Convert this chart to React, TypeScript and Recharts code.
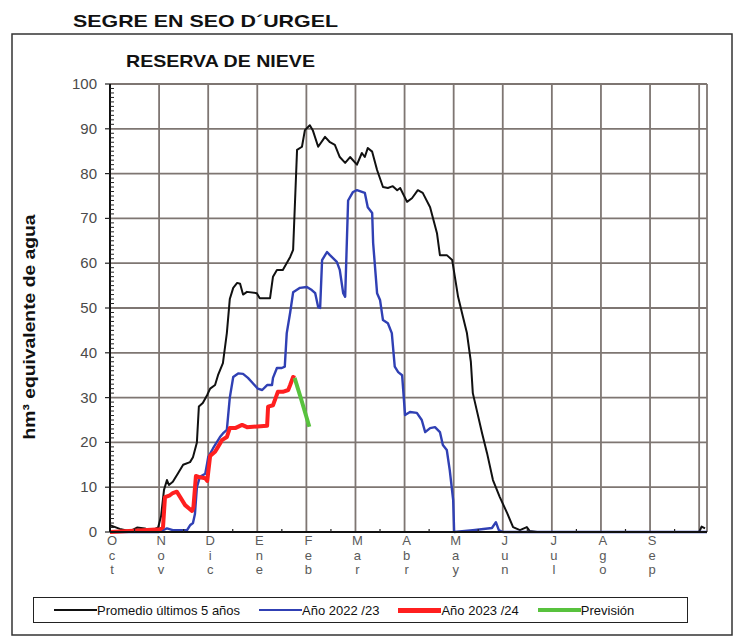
import React from "react";
import { LineChart, Line, XAxis, YAxis, CartesianGrid } from "recharts";

// months of the hydrological year, x axis is in month units (0 = 1 Oct)
const monthLabels = ["Oct", "Nov", "Dic", "Ene", "Feb", "Mar", "Abr", "May", "Jun", "Jul", "Ago", "Sep"];
const X_MAX = 12.16;
const xTicks = Array.from({ length: 25 }, (_, i) => i / 2);
const monthLines = [1, 2, 3, 4, 5, 6, 7, 8, 9, 10, 11, 12, X_MAX];
const yMajor = [10, 20, 30, 40, 50, 60, 70, 80, 90, 100];
const yTicks = Array.from({ length: 101 }, (_, i) => i);

// [mes, hm3]
const promedio: [number, number][] = [
  [0, 1.5], [0.2, 0.7], [0.41, 0.2], [0.55, 1.0], [0.71, 0.8], [0.81, 0.3], [0.92, 0.7], [0.98, 1.0],
  [1.04, 3.5], [1.1, 9.4], [1.16, 11.6], [1.2, 10.5], [1.28, 11.2], [1.38, 13], [1.49, 15], [1.63, 15.6],
  [1.69, 16.7], [1.77, 20], [1.81, 28], [1.89, 28.8], [1.98, 30.6], [2.04, 32], [2.14, 32.8], [2.2, 35],
  [2.3, 37.7], [2.38, 44.4], [2.44, 52], [2.51, 54.5], [2.59, 55.6], [2.65, 55.4], [2.71, 53], [2.79, 53.6],
  [2.99, 53.3], [3.05, 52.2], [3.26, 52.2], [3.32, 57], [3.4, 58.5], [3.52, 58.5], [3.67, 61.4], [3.73, 63],
  [3.81, 85.3], [3.91, 86], [3.97, 89.7], [4.07, 90.8], [4.13, 89.7], [4.24, 86], [4.38, 88.2], [4.48, 87],
  [4.58, 86.4], [4.68, 83.7], [4.79, 82.4], [4.89, 83.7], [5.03, 82], [5.13, 84.6], [5.19, 83.7], [5.25, 85.7],
  [5.34, 84.9], [5.44, 80.8], [5.56, 77], [5.66, 76.8], [5.76, 77.2], [5.85, 76.3], [5.91, 76.8], [6.05, 73.7],
  [6.15, 74.5], [6.27, 76.3], [6.37, 75.7], [6.52, 72.5], [6.66, 66.7], [6.72, 61.8], [6.86, 61.8], [6.97, 60.7],
  [7.09, 52.5], [7.19, 48], [7.27, 44.4], [7.35, 38], [7.39, 31], [7.47, 27.2], [7.58, 22], [7.68, 17.6],
  [7.8, 11.6], [7.94, 7.8], [8.09, 4.2], [8.21, 1.1], [8.35, 0.4], [8.49, 1.1], [8.55, 0.2], [8.7, 0],
  [12.0, 0], [12.05, 1.2], [12.12, 0.8],
];

const anio2223: [number, number][] = [
  [0, 0], [1.0, 0], [1.16, 0.8], [1.28, 0.4], [1.57, 0.4], [1.63, 1.5], [1.69, 2], [1.73, 4], [1.77, 10],
  [1.83, 12.3], [1.94, 13], [1.98, 15.4], [2.0, 16.7], [2.1, 18.7], [2.24, 21.2], [2.3, 22], [2.38, 22.8],
  [2.44, 30], [2.51, 34.6], [2.61, 35.4], [2.71, 35.3], [2.81, 34.4], [2.91, 33.2], [3.01, 32], [3.1, 31.7],
  [3.2, 32.8], [3.3, 32.8], [3.32, 34.4], [3.4, 36.6], [3.5, 36.6], [3.56, 36.9], [3.6, 44.4], [3.67, 49],
  [3.73, 53.5], [3.87, 54.5], [4.01, 54.7], [4.11, 54], [4.18, 53.3], [4.24, 50.2], [4.28, 50], [4.32, 60.7],
  [4.42, 62.5], [4.48, 61.8], [4.62, 60.3], [4.68, 58.5], [4.75, 53.3], [4.79, 52.5], [4.85, 74], [4.95, 75.9],
  [5.03, 76.3], [5.19, 75.7], [5.25, 72.5], [5.34, 71.2], [5.36, 64.5], [5.44, 53.3], [5.5, 51.8], [5.56, 47.3],
  [5.66, 46.6], [5.74, 44.4], [5.8, 36.9], [5.87, 35.7], [5.95, 35], [6.01, 26.1], [6.11, 26.8], [6.25, 26.6],
  [6.35, 25], [6.42, 22.3], [6.52, 23.2], [6.62, 23.4], [6.72, 22.3], [6.78, 19.4], [6.86, 18.3], [6.92, 13.8],
  [6.99, 7.1], [7.01, 0], [7.39, 0.4], [7.78, 0.9], [7.86, 2.2], [7.92, 0.4], [8.0, 0], [X_MAX, 0],
];

const anio2324: [number, number][] = [
  [0, 0], [0.67, 0.4], [1.02, 0.6], [1.08, 1.1], [1.12, 7.8], [1.22, 8.2], [1.28, 8.7], [1.36, 9],
  [1.43, 7.8], [1.53, 6], [1.67, 4.7], [1.7, 5.6], [1.75, 12.5], [1.83, 12.2], [1.94, 12], [1.98, 11.4],
  [2.04, 17], [2.14, 17.9], [2.2, 19], [2.28, 20.5], [2.38, 21.2], [2.44, 23.2], [2.55, 23.2], [2.69, 23.9],
  [2.79, 23.4], [3.2, 23.7], [3.22, 28], [3.32, 28.3], [3.38, 30.1], [3.42, 31.3], [3.52, 31.3], [3.63, 31.7],
  [3.67, 32.8], [3.73, 34.6], [3.77, 34.4],
];

const prevision: [number, number][] = [[3.76, 34.4], [3.9, 29.4], [4.06, 23.5]];

const toRows = (pts: [number, number][]) => pts.map(([mes, v]) => ({ mes, v }));

const series = [
  { name: "Promedio últimos 5 años", data: promedio, color: "#111111", width: 2, legendWidth: 2.5 },
  { name: "Año 2022 /23", data: anio2223, color: "#3040b4", width: 2.4, legendWidth: 2.5 },
  { name: "Año 2023 /24", data: anio2324, color: "#ff1f1f", width: 4, legendWidth: 5 },
  { name: "Previsión", data: prevision, color: "#58c23e", width: 4, legendWidth: 4.5 },
];

const FONT = "'Liberation Sans', Arial, sans-serif";

function MonthTick({ x, y, payload }: any) {
  const v = payload.value;
  const idx = Math.round(v);
  if (Math.abs(v - idx) > 0.01) {
    return <line x1={x} x2={x} y1={y} y2={y - 3} stroke="#222" strokeWidth={1.2} />;
  }
  const label = monthLabels[idx];
  if (!label) return <g />;
  return (
    <text x={x + 2} y={y + 13} textAnchor="middle" fontSize={13} fill="#5a5a5a" fontFamily={FONT}>
      {label.split("").map((ch, i) => (
        <tspan key={i} x={x + 2} dy={i === 0 ? 0 : 14.5}>
          {ch}
        </tspan>
      ))}
    </text>
  );
}

function ValueTick({ x, y, payload }: any) {
  const v = payload.value;
  if (v % 10 !== 0) {
    return <line x1={x} x2={x + 4} y1={y} y2={y} stroke="#222" strokeWidth={1} />;
  }
  return (
    <g>
      <line x1={x - 5} x2={x} y1={y} y2={y} stroke="#222" strokeWidth={1.2} />
      <text x={x - 13} y={y} dy={5} textAnchor="end" fontSize={15} fill="#4a4a4a" fontFamily={FONT}>
        {v}
      </text>
    </g>
  );
}

export default function App() {
  return (
    <div style={{ position: "relative", width: 735, height: 640, background: "#fff", fontFamily: FONT }}>
      <style>{"body{margin:0}"}</style>
      <svg width={735} height={640} style={{ position: "absolute", left: 0, top: 0 }}>
        <rect x={12} y={34} width={720} height={601} fill="none" stroke="#333" strokeWidth={1.5} />
        <text x={73} y={27} fontSize={17} fontWeight="bold" fill="#111" textLength={265} lengthAdjust="spacingAndGlyphs">
          SEGRE EN SEO D´URGEL
        </text>
        <text x={126} y={67} fontSize={17} fontWeight="bold" fill="#111" textLength={189} lengthAdjust="spacingAndGlyphs">
          RESERVA DE NIEVE
        </text>
        <text
          transform="translate(35,327) rotate(-90)"
          textAnchor="middle"
          fontSize={17}
          fontWeight="bold"
          fill="#111"
          textLength={225}
          lengthAdjust="spacingAndGlyphs"
        >
          hm³ equivalente de agua
        </text>
      </svg>
      <div style={{ position: "absolute", left: 0, top: 0 }}>
        <LineChart width={735} height={640} margin={{ top: 84, right: 28, left: 50, bottom: 68 }}>
          <CartesianGrid
            horizontalValues={yMajor}
            verticalValues={monthLines}
            stroke="#7e7672"
            strokeWidth={1.8}
          />
          <XAxis
            dataKey="mes"
            type="number"
            domain={[0, X_MAX]}
            ticks={xTicks}
            interval={0}
            height={40}
            allowDataOverflow
            axisLine={{ stroke: "#111", strokeWidth: 2 }}
            tickLine={false}
            tickSize={0}
            tickMargin={0}
            tick={<MonthTick />}
          />
          <YAxis
            type="number"
            domain={[0, 100]}
            ticks={yTicks}
            interval={0}
            width={60}
            axisLine={{ stroke: "#111", strokeWidth: 2 }}
            tickLine={false}
            tickSize={0}
            tickMargin={0}
            tick={<ValueTick />}
          />
          {series.map((s) => (
            <Line
              key={s.name}
              data={toRows(s.data)}
              dataKey="v"
              name={s.name}
              type="linear"
              stroke={s.color}
              strokeWidth={s.width}
              strokeLinejoin="round"
              dot={false}
              activeDot={false}
              isAnimationActive={false}
            />
          ))}
        </LineChart>
      </div>
      <div
        style={{
          position: "absolute",
          left: 33,
          top: 597,
          width: 655,
          height: 26,
          boxSizing: "border-box",
          border: "1.5px solid #222",
          display: "flex",
          alignItems: "center",
          paddingLeft: 20,
          gap: 19,
          fontSize: 13,
          color: "#111",
        }}
      >
        {series.map((s) => (
          <div key={s.name} style={{ display: "flex", alignItems: "center" }}>
            <div style={{ width: 43, height: s.legendWidth, background: s.color }} />
            <span>{s.name}</span>
          </div>
        ))}
      </div>
    </div>
  );
}
